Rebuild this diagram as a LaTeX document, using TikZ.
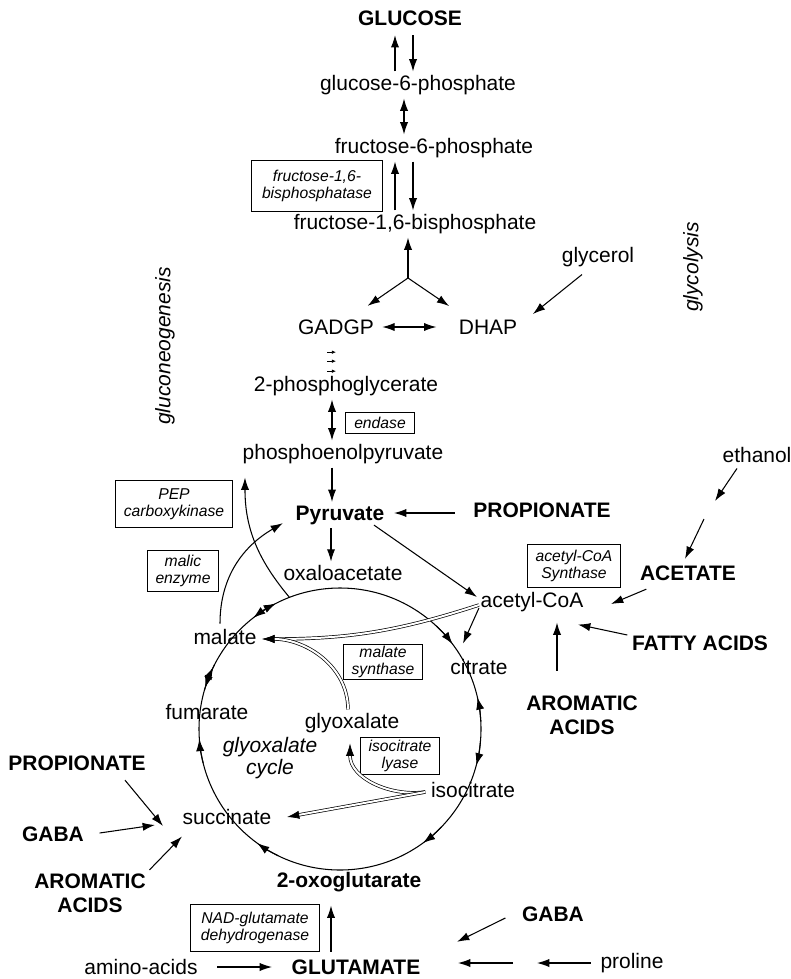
\documentclass[tikz,border=0pt]{standalone}
\usepackage{fontspec}
\setmainfont{Liberation Sans}
\usetikzlibrary{positioning,arrows.meta,calc}

\begin{document}
\begin{tikzpicture}[
    x=0.03cm, y=0.03cm,
    font=\fontsize{17.9pt}{21pt}\selectfont,
    met/.style={inner sep=3pt},
    big/.style={inner sep=3pt, align=center, font=\fontsize{17.9pt}{20.4pt}\selectfont\bfseries},
    lbl/.style={inner sep=3pt, align=center, font=\fontsize{17.9pt}{18.7pt}\selectfont\itshape},
    box/.style={draw, line width=0.8pt, align=center, inner xsep=7pt, inner ysep=1.5pt,
        font=\fontsize{13.4pt}{14.2pt}\selectfont\itshape},
    arrow/.style={-{Latex[length=10.5pt,width=7pt]}, line width=0.9pt},
    darrow/.style={{Latex[length=10.5pt,width=7pt]}-{Latex[length=10.5pt,width=7pt]}, line width=0.9pt},
    shunt/.style={double, double distance=1.7pt, line width=0.6pt, -{Latex[length=10.5pt,width=7pt]}},
    tick/.style={-{Latex[length=3.5pt,width=3pt]}, line width=0.6pt},
    tca/.style={line width=0.9pt}]
\useasboundingbox (0,0) rectangle (791,-979);

% upper glycolysis
\node[big] (glc) at (410,-18) {GLUCOSE};
\node[met] (g6p) at (418,-85) {glucose-6-phosphate};
\node[met] (f6p) at (434,-148) {fructose-6-phosphate};
\node[box, minimum width=112pt, minimum height=44pt] (fbpase) at (317,-186) {fructose-1,6-\\bisphosphatase};
\node[met] (fbp) at (415,-224) {fructose-1,6-bisphosphate};
\coordinate (split) at (408,-278);
\node[met] (gadgp) at (336,-327) {GADGP};
\node[met] (dhap) at (488,-327) {DHAP};
\node[met] (glycerol) at (598,-257) {glycerol};
\node[lbl, rotate=90] (glycolysis) at (693,-267) {glycolysis};
\node[lbl, rotate=90] (gluconeo) at (165,-346) {gluconeogenesis};
\node[met] (pg2) at (346,-386) {2-phosphoglycerate};
\node[box, minimum width=58.7pt, minimum height=18.7pt] (endase) at (380,-423) {endase};
\node[met] (pep) at (343,-454) {phosphoenolpyruvate};
\node[big] (pyr) at (340,-515) {Pyruvate};
\node[big] (propR) at (542,-510) {PROPIONATE};
\node[box, minimum width=96pt, minimum height=40pt] (pepck) at (174,-504) {PEP\\carboxykinase};
\node[box, minimum width=60.4pt, minimum height=34.9pt] (malic) at (183,-571) {malic\\enzyme};
\node[met] (oaa) at (343,-573) {oxaloacetate};

% acetyl-CoA side
\node[met] (accoa) at (532,-602) {acetyl-CoA};
\node[box, minimum width=80pt, minimum height=36.6pt] (acsyn) at (574,-566) {acetyl-CoA\\Synthase};
\node[big] (acetate) at (688,-573) {ACETATE};
\node[met] (ethanol) at (757,-455) {ethanol};
\coordinate (ethA) at (715,-501);
\coordinate (ethB) at (704,-519);
\node[big] (fatty) at (700,-643) {FATTY ACIDS};
\node[big] (aromR) at (582,-715) {AROMATIC\\ACIDS};

% cycle
\coordinate (ctr) at (340,-729);
\node[met] (malate) at (225,-637) {malate};
\node[met] (citrate) at (479,-667) {citrate};
\node[met] (fumarate) at (207,-712) {fumarate};
\node[met] (glyox) at (352,-723) {glyoxalate};
\node[lbl] (cyclelbl) at (270,-758) {glyoxalate\\cycle};
\node[box, minimum width=67.2pt] (mssyn) at (383,-662) {malate\\synthase};
\node[box, minimum width=67.2pt, minimum height=31.5pt] (icl) at (400,-756) {isocitrate\\lyase};
\node[met] (isocit) at (473,-790) {isocitrate};
\node[met] (succ) at (227,-817) {succinate};
\node[big] (oxo) at (349,-882) {2-oxoglutarate};

% lower inputs
\node[big] (propL) at (77,-763) {PROPIONATE};
\node[big] (gabaL) at (53,-834) {GABA};
\node[big] (aromL) at (90,-893) {AROMATIC\\ACIDS};
\node[box, minimum width=109.7pt, minimum height=40.8pt] (gdh) at (255,-928) {NAD-glutamate\\dehydrogenase};
\node[met] (amino) at (141,-967) {amino-acids};
\node[big] (glu) at (356,-967) {GLUTAMATE};
\node[big] (gabaB) at (553,-914) {GABA};
\node[met] (proline) at (632,-963) {proline};
\coordinate (proA) at (537,-963);
\coordinate (proB) at (513,-963);

% connectors
\draw[arrow] ($(g6p.north)+(-23,0)$) -- ($(glc.south)+(-15,-6)$);
\draw[arrow] ($(glc.south)+(3,-6)$) -- ($(g6p.north)+(-5,0)$);
\draw[darrow] ($(g6p.south)+(-14,0)$) -- ($(f6p.north)+(-30,0)$);
\draw[arrow] ($(fbp.north)+(-20,0)$) -- ($(f6p.south)+(-39,0)$);
\draw[arrow] ($(f6p.south)+(-21,0)$) -- ($(fbp.north)+(-2,0)$);
\draw[arrow] (split) -- ($(fbp.south)+(-7,0)$);
\draw[arrow] (split) -- ($(gadgp.north east)+(-10,10)$);
\draw[arrow] (split) -- ($(dhap.north west)+(-6,10)$);
\draw[darrow, shorten <=4pt, shorten >=16pt] (gadgp) -- (dhap);
\draw[arrow] ($(glycerol.south)+(-16,-4)$) -- ($(dhap.north east)+(12,2)$);
\foreach \dy in {14,23,33}
  \draw[tick] ($(gadgp.south)+(-9,-\dy)$) -- ($(gadgp.south)+(0,-\dy)$);
\draw[darrow] ($(pg2.south)+(-14,0)$) -- ($(pep.north)+(-11,0)$);
\draw[arrow] ($(pep.south)+(-11,0)$) -- ($(pyr.north)+(-8,0)$);
\draw[arrow] ($(propR.west)+(-15,-3)$) -- ($(pyr.east)+(6,2)$);
\draw[arrow] ($(pyr.south)+(-9,0)$) -- ($(oaa.north)+(-12,0)$);
\draw[arrow] ($(pyr.south east)+(-14,3)$) -- ($(accoa.west)+(0,5)$);
\draw[arrow] ($(ethanol.south)+(-20,-2)$) -- (ethA);
\draw[arrow] (ethB) -- ($(acetate.north)+(-3,3)$);
\draw[arrow] ($(acetate.south west)+(10,-5)$) -- ($(accoa.east)+(24,-2)$);
\draw[arrow] ($(fatty.west)+(-1,8)$) -- ($(accoa.south east)+(-9,-9)$);
\draw[arrow] ($(aromR.north)+(-25,21)$) -- ($(accoa.south)+(25,-7)$);
\draw[arrow] ($(accoa.west)+(2,-6)$) -- ($(citrate.north)+(-16,12)$);

% the cycle and its shunt
\draw[tca] (ctr) circle[radius=141];
\foreach \a/\b in {127/117, 118/128, 164/154, 153/163, 194/184,
                   244/234, 316/306, 355/345, 3/13, 47/37}
  \draw[arrow] (ctr) ++(\a:141) arc[start angle=\a, end angle=\b, radius=141];
\coordinate (pckfrom) at ($(ctr)+(111:141)$);
\draw[arrow] (pckfrom) to[out=130,in=-90] ($(pep.south west)+(6,-10)$);
\draw[arrow] ($(malate.north)+(-5,2)$) to[out=90,in=210] ($(pyr.south west)+(-9,5)$);
\draw[shunt] ($(accoa.west)+(2,-3)$) to[out=198,in=0] ($(malate.east)+(2,-2)$);
\draw[shunt] ($(glyox.north)+(-4,0)$) to[out=90,in=0] ($(malate.east)+(2,-2)$);
\draw[shunt] ($(isocit.west)+(-2,-2)$) to[out=188,in=-90] ($(glyox.south)+(-2,-7)$);
\draw[shunt] ($(isocit.west)+(-2,-2)$) -- ($(succ.east)+(12,0)$);

\draw[arrow] ($(propL.south)+(48,-6)$) -- ($(succ.west)+(-16,-9)$);
\draw[arrow] ($(gabaL.east)+(12,1)$) -- ($(succ.west)+(-24,-8)$);
\draw[arrow] (aromL.north east) -- ($(succ.south west)+(3,-8)$);
\draw[arrow] ($(glu.north)+(-25,4)$) -- ($(oxo.south)+(-18,-10)$);
\draw[arrow] ($(amino.east)+(16,0)$) -- ($(glu.west)+(-16,0)$);
\draw[arrow] ($(gabaB.west)+(-13,-4)$) -- ($(glu.north east)+(33,14)$);
\draw[arrow] ($(proline.west)+(-6,0)$) -- (proA);
\draw[arrow] (proB) -- ($(glu.east)+(34,4)$);
\end{tikzpicture}
\end{document}
